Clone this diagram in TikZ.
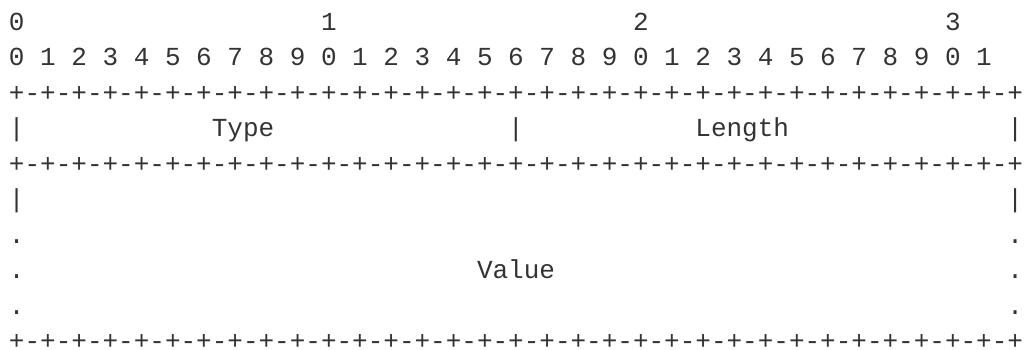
\documentclass[tikz,border=0pt]{standalone}
\usepackage{fontspec}
\newfontfamily\asciimono{Liberation Mono}
\definecolor{inkgray}{HTML}{333333}
\begin{document}
\begin{tikzpicture}[x=15.6pt,y=-35.55pt,
  ch/.style={anchor=base west,inner sep=0pt,outer sep=0pt,text=inkgray,font=\asciimono\fontsize{26pt}{30pt}\selectfont}]
\useasboundingbox[fill=white] (-9pt,30pt) rectangle (1015pt,-319pt);
\def\fourpairs{+-+-+-+-}
\def\borderline{\fourpairs\fourpairs\fourpairs\fourpairs\fourpairs\fourpairs\fourpairs\fourpairs+}
% row 0: tens
\foreach \t in {0,1,2,3} \node[ch] (tens\t) at ({20*\t},0) {\t};
% row 1: units
\foreach \i in {0,...,31} {
  \pgfmathtruncatemacro\d{mod(\i,10)}
  \node[ch] (bit\i) at ({2*\i},1) {\d};
}
% row 2: border
\node[ch] (topborder) at (0,2) {\borderline};
% row 3: Type / Length
\node[ch] (barA) at (0,3) {|};
\node[ch] (type) at (13,3) {Type};
\node[ch] (barB) at (32,3) {|};
\node[ch] (length) at (44,3) {Length};
\node[ch] (barC) at (64,3) {|};
% row 4: border
\node[ch] (midborder) at (0,4) {\borderline};
% row 5
\node[ch] (barD) at (0,5) {|};
\node[ch] (barE) at (64,5) {|};
% rows 6-8
\node[ch] (dotA) at (0,6) {.};
\node[ch] (dotB) at (64,6) {.};
\node[ch] (dotC) at (0,7) {.};
\node[ch] (value) at (30,7) {Value};
\node[ch] (dotD) at (64,7) {.};
\node[ch] (dotE) at (0,8) {.};
\node[ch] (dotF) at (64,8) {.};
% row 9: border
\node[ch] (botborder) at (0,9) {\borderline};
\end{tikzpicture}
\end{document}
